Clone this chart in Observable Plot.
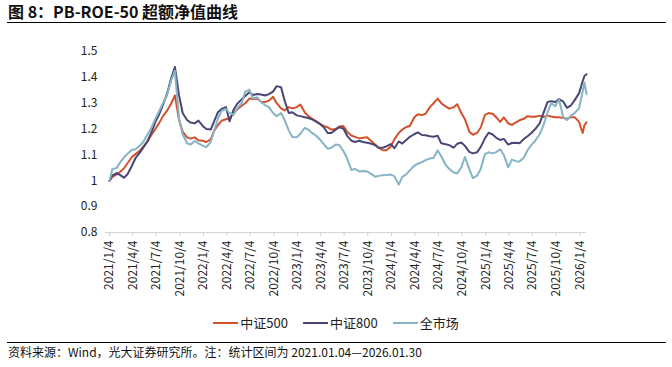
<!DOCTYPE html>
<html><head><meta charset="utf-8">
<script src="https://cdn.jsdelivr.net/npm/d3@7"></script>
<script src="https://cdn.jsdelivr.net/npm/@observablehq/plot@0.6"></script>
<style>
body{margin:0;background:#fff;font-family:"Noto Sans CJK SC","Noto Sans",sans-serif;color:#111;}
#wrap{position:relative;width:672px;height:367px;overflow:hidden;background:#fff;}
#title{position:absolute;left:8px;top:0px;font-size:16px;font-weight:bold;line-height:22px;color:#111;white-space:nowrap;}
.rule{position:absolute;left:7px;width:659px;height:0;border-top:1.5px solid #000;}
#chart{position:absolute;left:0;top:25px;}
#legend{position:absolute;top:313px;left:0;width:672px;display:flex;justify-content:center;font-size:13px;line-height:19px;color:#222;}
.item{display:flex;align-items:center;margin:0 7.5px;}
.sw{width:25px;height:0;border-top:2px solid;margin-right:2px;}
#caption{position:absolute;left:8px;top:343px;font-size:12px;line-height:18px;color:#111;white-space:nowrap;}
</style></head>
<body>
<div id="wrap">
  <div id="title">图 8：PB-ROE-50 超额净值曲线</div>
  <div class="rule" style="top:22px"></div>
  <div id="chart"></div>
  <div id="legend"></div>
  <div class="rule" style="top:342px"></div>
  <div id="caption">资料来源：Wind，光大证券研究所。注：统计区间为 2021.01.04—2026.01.30</div>
</div>
<script>
const seriesNames = ["中证500", "中证800", "全市场"];
const seriesColors = ["#d4502a", "#4b4675", "#86b3c6"];

const dates = [
  "2021-01-04","2021-01-15","2021-02-01","2021-02-15","2021-03-01","2021-03-15","2021-04-01","2021-04-15","2021-05-01","2021-05-15","2021-06-01","2021-06-15","2021-07-01","2021-07-15","2021-08-01","2021-08-15","2021-09-01","2021-09-15","2021-10-01","2021-10-15","2021-11-01","2021-11-15","2021-12-01","2021-12-15",
  "2022-01-01","2022-01-15","2022-02-01","2022-02-15","2022-03-01","2022-03-15","2022-04-01","2022-04-15","2022-05-01","2022-05-15","2022-06-01","2022-06-15","2022-07-01","2022-07-15","2022-08-01","2022-08-15","2022-09-01","2022-09-15","2022-10-01","2022-10-15","2022-11-01","2022-11-15","2022-12-01","2022-12-15",
  "2023-01-01","2023-01-15","2023-02-01","2023-02-15","2023-03-01","2023-03-15","2023-04-01","2023-04-15","2023-05-01","2023-05-15","2023-06-01","2023-06-15","2023-07-01","2023-07-15","2023-08-01","2023-08-15","2023-09-01","2023-09-15","2023-10-01","2023-10-15","2023-11-01","2023-11-15","2023-12-01","2023-12-15",
  "2024-01-01","2024-01-15","2024-02-01","2024-02-15","2024-03-01","2024-03-15","2024-04-01","2024-04-15","2024-05-01","2024-05-15","2024-06-01","2024-06-15","2024-07-01","2024-07-15","2024-08-01","2024-08-15","2024-09-01","2024-09-15","2024-10-01","2024-10-15","2024-11-01","2024-11-15","2024-12-01","2024-12-15",
  "2025-01-01","2025-01-15","2025-02-01","2025-02-15","2025-03-01","2025-03-15","2025-04-01","2025-04-15","2025-05-01","2025-05-15","2025-06-01","2025-06-15","2025-07-01","2025-07-15","2025-08-01","2025-08-15","2025-09-01","2025-09-15","2025-10-01","2025-10-15","2025-11-01","2025-11-15","2025-12-01","2025-12-15",
  "2026-01-01","2026-01-15","2026-01-22","2026-01-30"
];

const csi500 = [
  1.000,1.015,1.025,1.035,1.048,1.068,1.092,1.103,1.116,1.132,1.152,1.176,1.200,1.222,1.252,1.270,1.300,1.330,1.235,1.190,1.168,1.163,1.168,1.157,
  1.155,1.150,1.160,1.195,1.215,1.232,1.238,1.242,1.262,1.276,1.290,1.300,1.318,1.316,1.318,1.306,1.305,1.310,1.325,1.300,1.280,1.272,1.285,1.280,
  1.285,1.295,1.265,1.250,1.240,1.232,1.220,1.212,1.207,1.198,1.200,1.210,1.212,1.190,1.175,1.170,1.164,1.166,1.168,1.156,1.140,1.128,1.118,1.118,
  1.132,1.160,1.185,1.198,1.208,1.212,1.245,1.257,1.254,1.259,1.285,1.300,1.318,1.300,1.288,1.279,1.284,1.296,1.262,1.238,1.190,1.178,1.185,1.205,
  1.255,1.262,1.258,1.244,1.228,1.245,1.222,1.216,1.226,1.234,1.240,1.250,1.248,1.248,1.252,1.247,1.252,1.249,1.246,1.246,1.243,1.240,1.246,1.246,
  1.228,1.185,1.215,1.226
];

const csi800 = [
  1.000,1.020,1.030,1.022,1.012,1.025,1.058,1.088,1.108,1.128,1.155,1.185,1.227,1.255,1.297,1.335,1.398,1.440,1.330,1.262,1.235,1.225,1.222,1.233,
  1.212,1.200,1.198,1.232,1.265,1.278,1.285,1.230,1.275,1.298,1.315,1.328,1.342,1.332,1.336,1.334,1.330,1.335,1.345,1.366,1.362,1.310,1.262,1.265,
  1.253,1.250,1.246,1.243,1.238,1.230,1.220,1.208,1.185,1.185,1.198,1.207,1.202,1.175,1.155,1.150,1.155,1.150,1.147,1.144,1.138,1.128,1.128,1.133,
  1.142,1.126,1.152,1.144,1.158,1.170,1.180,1.187,1.177,1.176,1.172,1.170,1.174,1.145,1.141,1.138,1.128,1.143,1.148,1.135,1.112,1.106,1.110,1.130,
  1.165,1.186,1.178,1.165,1.158,1.162,1.140,1.146,1.147,1.145,1.162,1.172,1.186,1.200,1.222,1.260,1.305,1.308,1.305,1.316,1.306,1.282,1.292,1.312,
  1.338,1.385,1.405,1.412
];

const allMarket = [
  1.000,1.045,1.050,1.072,1.090,1.105,1.120,1.122,1.135,1.150,1.180,1.204,1.240,1.268,1.303,1.330,1.390,1.425,1.240,1.180,1.145,1.140,1.154,1.145,
  1.136,1.130,1.150,1.195,1.240,1.270,1.278,1.262,1.255,1.280,1.300,1.345,1.352,1.318,1.323,1.305,1.292,1.285,1.262,1.250,1.262,1.235,1.195,1.169,
  1.168,1.182,1.205,1.198,1.185,1.176,1.160,1.143,1.124,1.128,1.140,1.138,1.115,1.088,1.042,1.046,1.036,1.038,1.036,1.028,1.016,1.019,1.021,1.022,
  1.024,1.018,0.985,1.015,1.025,1.040,1.058,1.066,1.072,1.080,1.086,1.088,1.118,1.095,1.062,1.046,1.032,1.028,1.052,1.092,1.045,1.010,1.020,1.045,
  1.104,1.110,1.106,1.112,1.122,1.100,1.052,1.082,1.076,1.075,1.090,1.118,1.140,1.155,1.180,1.212,1.266,1.300,1.288,1.315,1.245,1.235,1.252,1.262,
  1.280,1.345,1.380,1.335
];

const xTickLabels = ["2021/1/4","2021/4/4","2021/7/4","2021/10/4","2022/1/4","2022/4/4","2022/7/4","2022/10/4","2023/1/4","2023/4/4","2023/7/4","2023/10/4","2024/1/4","2024/4/4","2024/7/4","2024/10/4","2025/1/4","2025/4/4","2025/7/4","2025/10/4","2026/1/4"];
const yTicks = [0.8,0.9,1.0,1.1,1.2,1.3,1.4,1.5];

const parse = s => new Date(s + "T00:00:00Z");
const valuesBySeries = [csi500, csi800, allMarket];
const rows = [];
seriesNames.forEach((name, i) => {
  dates.forEach((d, j) => rows.push({series: name, date: parse(d), value: valuesBySeries[i][j]}));
});
const xTicks = xTickLabels.map(s => { const [y,m,d] = s.split("/").map(Number); return new Date(Date.UTC(y, m-1, d)); });
const fmtDate = d => `${d.getUTCFullYear()}/${d.getUTCMonth()+1}/${d.getUTCDate()}`;

const chart = Plot.plot({
  width: 672, height: 285,
  marginTop: 26, marginBottom: 78, marginLeft: 109, marginRight: 86,
  style: {fontFamily: '"Noto Sans CJK SC","Noto Sans",sans-serif', fontSize: "12px", color: "#222", background: "transparent"},
  x: {type: "utc", domain: [parse(dates[0]), parse(dates[dates.length-1])]},
  y: {domain: [0.8, 1.5]},
  color: {domain: seriesNames, range: seriesColors},
  marks: [
    Plot.ruleY([0.8], {stroke: "#d4d4d4", strokeWidth: 1, insetLeft: -4}),
    Plot.axisX({ticks: xTicks, tickFormat: fmtDate, tickRotate: -90, tickSize: 4, tickPadding: 4, stroke: "#cfcfcf", fill: "#222", fontSize: 12, label: null}),
    Plot.axisY({ticks: yTicks, tickSize: 0, tickPadding: 12, tickFormat: d => String(+d.toFixed(1)), fill: "#222", fontSize: 12, label: null}),
    Plot.line(rows, {x: "date", y: "value", z: "series", stroke: "series", strokeWidth: 2, curve: "linear"})
  ]
});
document.getElementById("chart").appendChild(chart);

const legend = document.getElementById("legend");
seriesNames.forEach((n, i) => {
  const it = document.createElement("div"); it.className = "item";
  const sw = document.createElement("span"); sw.className = "sw"; sw.style.borderColor = seriesColors[i];
  const tx = document.createElement("span"); tx.textContent = n;
  it.appendChild(sw); it.appendChild(tx); legend.appendChild(it);
});
</script>
</body></html>
